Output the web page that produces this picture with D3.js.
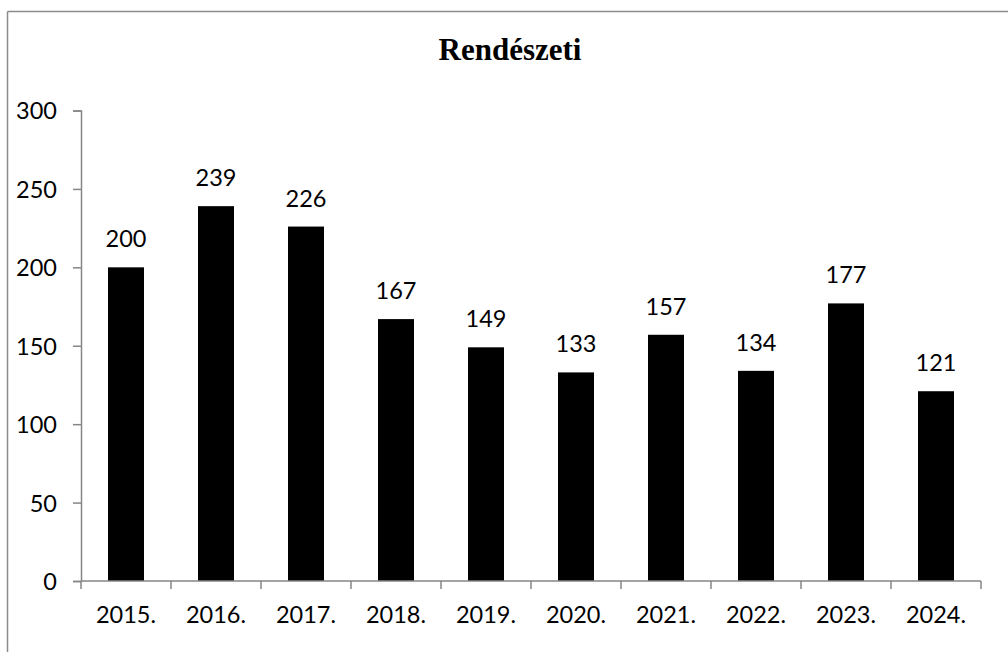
<!DOCTYPE html>
<html>
<head>
<meta charset="utf-8">
<script src="https://cdn.jsdelivr.net/npm/d3@7"></script>
<style>
  html, body { margin: 0; padding: 0; background: #fff; }
  svg { display: block; }
</style>
</head>
<body>
<svg id="chart" width="1008" height="652"></svg>
<script>
const title = "Rendészeti";
const categories = ["2015.", "2016.", "2017.", "2018.", "2019.", "2020.", "2021.", "2022.", "2023.", "2024."];
const values = [200, 239, 226, 167, 149, 133, 157, 134, 177, 121];
const yTicks = [0, 50, 100, 150, 200, 250, 300];

const svg = d3.select("#chart");
const W = 1008, H = 652;
const m = { left: 81, right: 1008 - 981, top: 110.5, bottom: 652 - 581 };

// outer frame (only top & left visible in the crop)
svg.append("line").attr("x1", 7.5).attr("x2", W).attr("y1", 11.5).attr("y2", 11.5)
  .attr("stroke", "#8c8c8c").attr("stroke-width", 1.5);
svg.append("line").attr("x1", 7.5).attr("x2", 7.5).attr("y1", 11.5).attr("y2", H)
  .attr("stroke", "#8c8c8c").attr("stroke-width", 1.5);

const x = d3.scaleBand().domain(categories).range([m.left, W - m.right]).paddingInner(0.6).paddingOuter(0.3);
const y = d3.scaleLinear().domain([0, 300]).range([H - m.bottom, m.top]);

const font = "Lato, 'Open Sans', sans-serif";
const fs = 23.5;
const axisColor = "#868686";

// bars
svg.append("g").selectAll("rect").data(values).join("rect")
  .attr("x", (d, i) => x(categories[i]))
  .attr("y", d => y(d))
  .attr("width", x.bandwidth())
  .attr("height", d => y(0) - y(d))
  .attr("fill", "#000");

// data labels
svg.append("g").selectAll("text").data(values).join("text")
  .attr("x", (d, i) => x(categories[i]) + x.bandwidth() / 2)
  .attr("y", d => y(d) - 20)
  .attr("text-anchor", "middle")
  .attr("font-family", font)
  .attr("font-size", fs)
  .attr("fill", "#000")
  .text(d => d);

// y axis
const yAxis = svg.append("g").attr("transform", `translate(${m.left},0)`)
  .call(d3.axisLeft(y).tickValues(yTicks).tickSize(8).tickPadding(16));
yAxis.select(".domain").attr("stroke", axisColor).attr("stroke-width", 1.5);
yAxis.selectAll(".tick line").attr("stroke", axisColor).attr("stroke-width", 1.5);
yAxis.selectAll(".tick text").attr("font-family", font).attr("font-size", fs).attr("fill", "#000").attr("dy", "0.36em");

// x axis
const xEdges = d3.scaleLinear().domain([0, categories.length]).range([m.left, W - m.right]);
const xg = svg.append("g");
xg.append("line").attr("x1", m.left).attr("x2", W - m.right).attr("y1", y(0)).attr("y2", y(0))
  .attr("stroke", axisColor).attr("stroke-width", 1.5);
xg.selectAll("line.tk").data(d3.range(categories.length + 1)).join("line").attr("class", "tk")
  .attr("x1", i => xEdges(i)).attr("x2", i => xEdges(i))
  .attr("y1", y(0)).attr("y2", y(0) + 8)
  .attr("stroke", axisColor).attr("stroke-width", 1.5);
xg.selectAll("text").data(categories).join("text")
  .attr("x", d => x(d) + x.bandwidth() / 2)
  .attr("y", y(0) + 42)
  .attr("text-anchor", "middle")
  .attr("font-family", font)
  .attr("font-size", fs)
  .attr("fill", "#000")
  .text(d => d);

// title
svg.append("text")
  .attr("x", 510).attr("y", 60)
  .attr("text-anchor", "middle")
  .attr("font-family", "'Liberation Serif', 'Times New Roman', serif")
  .attr("font-weight", "bold")
  .attr("font-size", 31)
  .attr("fill", "#000")
  .text(title);
</script>
</body>
</html>
